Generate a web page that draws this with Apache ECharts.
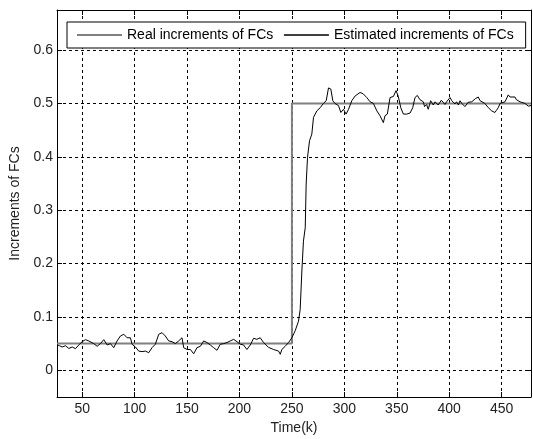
<!DOCTYPE html>
<html><head><meta charset="utf-8">
<script src="https://cdn.jsdelivr.net/npm/echarts@6/dist/echarts.min.js"></script>
<style>html,body{margin:0;padding:0;background:#fff}#c{width:533px;height:439px}</style>
</head><body><div id="c"></div>
<script>
const seriesNames = ['Real increments of FCs', 'Estimated increments of FCs'];
const realK = [26, 250, 250, 478];
const realV = [0.05, 0.05, 0.5, 0.5];
const estK = [26.5,28.5,30.9,34.1,37.3,40.5,43.6,46.8,50,53.2,56.3,61.1,64.3,67.4,70.6,73.8,77,80.1,83.3,86.5,89.7,92.8,96,97.6,100.8,103.9,107.1,110.3,113.5,116.6,119.8,123,126.2,129.3,132.5,135.7,138.9,142,145.2,146.8,150,153.2,156.3,159.5,162.7,165.9,169,172.2,175.4,178.5,181.7,184.9,188.1,191.2,194.4,197.6,200.8,203.9,207.1,210.3,213.5,216.6,219.8,223,227.7,232.5,237.3,238.9,240.4,243.6,246.8,250,253.1,256.3,257.9,259.5,261,262.7,263.6,264.9,266.8,269,270.6,273.8,277,280,282.7,284.9,287.1,289,291,292.5,294.4,296.7,299.2,301.7,304,307.1,310.3,315,318,321.4,324.6,327.7,331,334,337.2,338.8,341,343.6,346.8,349.3,351.5,353.8,356.3,359.5,362.7,365.2,367.4,369.6,372.1,375.3,376.5,378.5,380,382.3,384.8,386.5,388,389.5,391,392.5,394.3,396,397.5,399,400.8,402.5,404,405.5,407,408.8,410.3,412,413.4,415,416.6,418,419.8,421.5,423,425,427.7,429.5,431,434,437.3,440.5,442,443.6,445,446.8,448.5,450,453.2,456.3,458,459.5,462.7,464,465.8,467.5,469,472.2,474,475.4,477,478];
const estV = [0.0475,0.046,0.0437,0.046,0.041,0.0437,0.0405,0.0475,0.0536,0.0574,0.055,0.05,0.045,0.05,0.0574,0.0475,0.05,0.0424,0.055,0.0643,0.0675,0.061,0.061,0.0488,0.0437,0.036,0.035,0.036,0.033,0.0424,0.0488,0.0675,0.0705,0.0643,0.055,0.0536,0.05,0.055,0.061,0.0424,0.039,0.039,0.031,0.0424,0.045,0.055,0.052,0.0475,0.0424,0.0375,0.0488,0.05,0.052,0.055,0.058,0.0536,0.0488,0.0475,0.039,0.0475,0.06,0.058,0.061,0.052,0.043,0.039,0.036,0.030,0.039,0.045,0.052,0.061,0.074,0.092,0.114,0.186,0.242,0.267,0.349,0.399,0.43,0.4425,0.474,0.486,0.492,0.4999,0.505,0.529,0.527,0.505,0.5,0.497,0.496,0.483,0.489,0.48,0.489,0.505,0.514,0.5205,0.518,0.511,0.503,0.5,0.486,0.477,0.464,0.477,0.48,0.511,0.513,0.524,0.513,0.492,0.48,0.48,0.482,0.492,0.511,0.515,0.507,0.503,0.494,0.498,0.489,0.505,0.497,0.503,0.505,0.497,0.5,0.506,0.505,0.498,0.503,0.5,0.511,0.505,0.505,0.499,0.503,0.497,0.505,0.5,0.499,0.494,0.497,0.502,0.5,0.503,0.505,0.509,0.512,0.505,0.503,0.5,0.492,0.486,0.489,0.483,0.487,0.492,0.5,0.503,0.503,0.516,0.512,0.511,0.512,0.507,0.509,0.503,0.503,0.5,0.497,0.495,0.498,0.496];
const xRange = [26, 478];
const yRange = [-0.05, 0.675];
const xTitle = 'Time(k)';
const yTitle = 'Increments of FCs';

const font = "'Liberation Sans', Arial, sans-serif";
const zip = (a, b) => a.map((v, i) => [v, b[i]]);
const legendLines = [{color: '#808080', width: 2}, {color: '#000', width: 1.3}];
const chart = echarts.init(document.getElementById('c'), null, {renderer: 'canvas'});
const lineBlack = {color: '#000', width: 1};
const tickCfg = {show: true, inside: true, length: 5, lineStyle: {color: '#000', width: 1}};
const gridLine = {show: true, lineStyle: {color: '#000', width: 1, type: [3, 3]}};
chart.setOption({
  animation: false,
  backgroundColor: '#fff',
  textStyle: {fontFamily: font},
  grid: {left: 57, right: 2, top: 10, bottom: 42, containLabel: false, outerBoundsMode: 'none'},
  legend: {
    data: seriesNames.map((n, i) => ({name: n, lineStyle: legendLines[i]})),
    left: 67, top: 22, orient: 'horizontal',
    padding: [6, 12, 6, 9], itemGap: 10, itemWidth: 45, itemHeight: 15,
    borderColor: '#000', borderWidth: 1, backgroundColor: '#fff', borderRadius: 0,
    itemStyle: {opacity: 0, color: 'transparent', borderWidth: 0},
    textStyle: {fontSize: 14, color: '#000', fontFamily: font}
  },
  xAxis: [{
    type: 'value', min: xRange[0], max: xRange[1], splitNumber: 9, position: 'bottom',
    axisLine: {show: true, onZero: false, lineStyle: lineBlack},
    axisTick: tickCfg,
    axisLabel: {margin: 5, fontSize: 14, color: '#222', fontFamily: font, showMinLabel: false, showMaxLabel: false},
    splitLine: gridLine,
    name: xTitle, nameLocation: 'middle', nameGap: 24,
    nameTextStyle: {fontSize: 14, color: '#222', fontFamily: font}
  }, {
    type: 'value', min: xRange[0], max: xRange[1], splitNumber: 9, position: 'top',
    axisLine: {show: true, onZero: false, lineStyle: lineBlack},
    axisTick: tickCfg, axisLabel: {show: false}, splitLine: {show: false}
  }],
  yAxis: [{
    type: 'value', min: yRange[0], max: yRange[1], splitNumber: 7, position: 'left',
    axisLine: {show: true, onZero: false, lineStyle: lineBlack},
    axisTick: tickCfg,
    axisLabel: {margin: 4, fontSize: 14, color: '#222', fontFamily: font, showMinLabel: false, showMaxLabel: false},
    splitLine: gridLine,
    name: yTitle, nameLocation: 'middle', nameGap: 32, nameRotate: 90,
    nameTextStyle: {fontSize: 14, color: '#222', fontFamily: font}
  }, {
    type: 'value', min: yRange[0], max: yRange[1], splitNumber: 7, position: 'right',
    axisLine: {show: true, onZero: false, lineStyle: lineBlack},
    axisTick: tickCfg, axisLabel: {show: false}, splitLine: {show: false}
  }],
  series: [{
    name: seriesNames[0], type: 'line', xAxisIndex: 0, yAxisIndex: 0,
    data: zip(realK, realV), symbol: 'none', showSymbol: false,
    lineStyle: {color: '#808080', width: 2}, itemStyle: {color: '#808080'}, z: 2
  }, {
    name: seriesNames[1], type: 'line', xAxisIndex: 0, yAxisIndex: 0,
    data: zip(estK, estV), symbol: 'none', showSymbol: false,
    lineStyle: {color: '#000', width: 1}, itemStyle: {color: '#000'}, z: 3
  }]
});
</script></body></html>
